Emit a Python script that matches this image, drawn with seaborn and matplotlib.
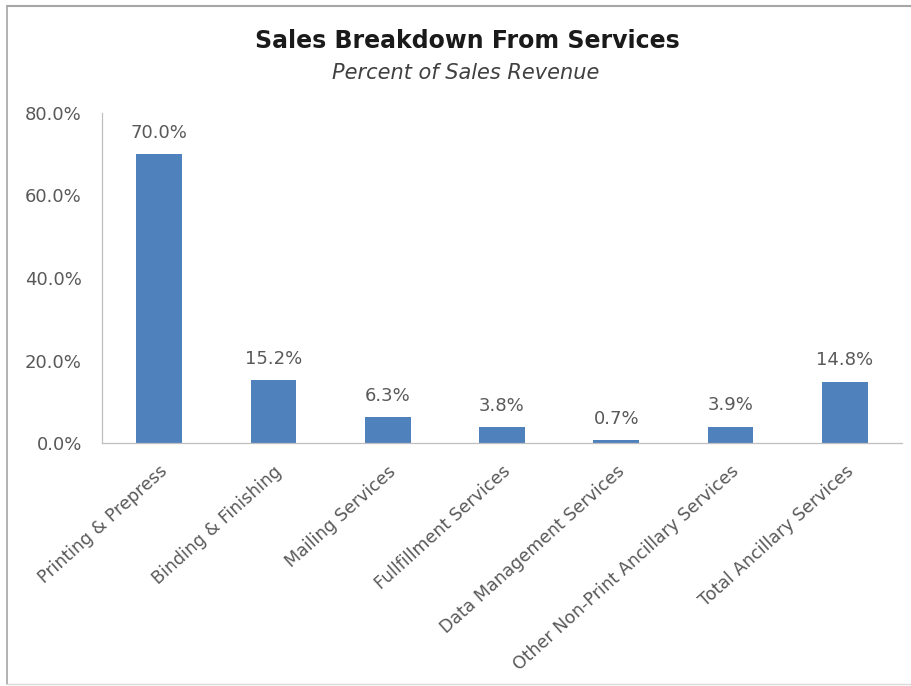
import numpy as np
import pandas as pd
import matplotlib
matplotlib.use("Agg")
import matplotlib.pyplot as plt
import seaborn as sns

# Service categories and their share of sales revenue (%)
categories = [
    "Printing & Prepress",
    "Binding & Finishing",
    "Mailing Services",
    "Fullfillment Services",
    "Data Management Services",
    "Other Non-Print Ancillary Services",
    "Total Ancillary Services",
]
share_pct = [70.0, 15.2, 6.3, 3.8, 0.7, 3.9, 14.8]
y_ticks = [0, 20, 40, 60, 80]

title_text = "Sales Breakdown From Services"
subtitle_text = "Percent of Sales Revenue"

df = pd.DataFrame({"category": categories, "share": share_pct})

sns.set_theme(style="white")
plt.rcParams["font.family"] = ["DejaVu Sans"]

label_gray = "#595959"
axis_gray = "#bfbfbf"
bar_blue = "#4f81bd"

W, H = 911, 686
fig = plt.figure(figsize=(W / 100, H / 100), dpi=100)
fig.patch.set_facecolor("white")

ax = fig.add_axes([102 / W, 1 - 443 / H, (902 - 102) / W, (443 - 113) / H])

sns.barplot(data=df, x="category", y="share", color=bar_blue, width=0.4,
            saturation=1, ax=ax, edgecolor="none")

ax.set_ylim(0, 80)
ax.set_xlim(-0.5, len(categories) - 0.5)
ax.set_xlabel("")
ax.set_ylabel("")

# y axis: percent ticks pointing outward
ax.set_yticks(y_ticks)
ax.set_yticklabels([f"{v:.1f}%" for v in y_ticks], color=label_gray, fontsize=13)
ax.tick_params(axis="y", length=3.5, width=0.8, color=axis_gray, pad=11)

# x axis: ticks at category boundaries, labels at category centres
ax.set_xticks(np.arange(-0.5, len(categories), 1.0))
ax.set_xticklabels([""] * (len(categories) + 1))
ax.tick_params(axis="x", which="major", length=3.5, width=0.8, color=axis_gray,
               direction="out")
ax.set_xticks(np.arange(len(categories)), minor=True)
ax.set_xticklabels(categories, minor=True, rotation=42, ha="right",
                   rotation_mode="anchor", color=label_gray, fontsize=12.5,
                   va="top")
ax.tick_params(axis="x", which="minor", length=0, pad=14)

for side in ["top", "right"]:
    ax.spines[side].set_visible(False)
for side in ["left", "bottom"]:
    ax.spines[side].set_color(axis_gray)
    ax.spines[side].set_linewidth(0.9)

# value labels above each bar
for patch, val in zip(ax.patches, share_pct):
    ax.annotate(f"{val:.1f}%", (patch.get_x() + patch.get_width() / 2, val),
                xytext=(0, 9), textcoords="offset points", ha="center",
                va="bottom", color=label_gray, fontsize=13)

fig.text(467 / W, 1 - 41 / H, title_text, ha="center", va="center",
         fontsize=17, fontweight="bold", color="#1a1a1a")
fig.text(466 / W, 1 - 73 / H, subtitle_text, ha="center", va="center",
         fontsize=15, fontstyle="italic", color="#404040")

# chart frame
fig.add_artist(plt.Line2D([7 / W, 7 / W], [1 - 684 / H, 1 - 6 / H],
                          transform=fig.transFigure, color="#a6a6a6", lw=1.2))
fig.add_artist(plt.Line2D([7 / W, 1.0], [1 - 6 / H, 1 - 6 / H],
                          transform=fig.transFigure, color="#a6a6a6", lw=1.5))
fig.add_artist(plt.Line2D([7 / W, 1.0], [1 - 684 / H, 1 - 684 / H],
                          transform=fig.transFigure, color="#d9d9d9", lw=1.0))

fig.savefig("out.png", dpi=100, facecolor="white")
